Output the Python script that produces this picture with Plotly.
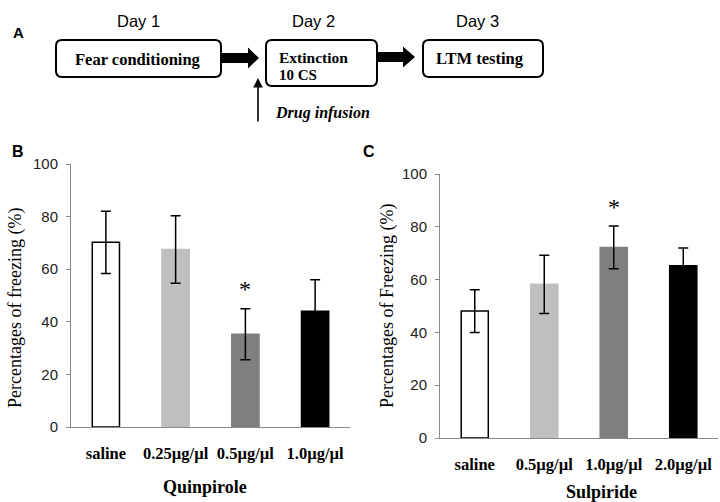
import plotly.graph_objects as go

# ---------------- data ----------------
categories_b = ["saline", "0.25µg/µl", "0.5µg/µl", "1.0µg/µl"]
values_b = [70.2, 67.5, 35.3, 44.0]
errors_b = [11.8, 12.8, 9.7, 12.0]

categories_c = ["saline", "0.5µg/µl", "1.0µg/µl", "2.0µg/µl"]
values_c = [48.1, 58.2, 72.2, 65.2]
errors_c = [8.1, 11.0, 8.1, 6.8]

y_ticks = [0, 20, 40, 60, 80, 100]
star_b = ("0.5µg/µl", 52.5)
star_c = ("1.0µg/µl", 87.5)

W, H = 720, 502
SERIF = "Liberation Serif, Times New Roman, serif"
SANS = "Liberation Sans, Arial, sans-serif"
fills = ["#ffffff", "#bfbfbf", "#7f7f7f", "#000000"]
lines = ["#000000", "#bfbfbf", "#7f7f7f", "#000000"]


def px(x):
    return x / W


def py(y):
    return 1 - y / H


def pt(x, y):
    return f"{px(x):.5f},{py(y):.5f}"


def rrect(x0, y0, x1, y1, r):
    return (f"M{pt(x0+r,y0)} L{pt(x1-r,y0)} Q{pt(x1,y0)} {pt(x1,y0+r)} "
            f"L{pt(x1,y1-r)} Q{pt(x1,y1)} {pt(x1-r,y1)} L{pt(x0+r,y1)} "
            f"Q{pt(x0,y1)} {pt(x0,y1-r)} L{pt(x0,y0+r)} Q{pt(x0,y0)} {pt(x0+r,y0)} Z")


def fat_arrow(xs, xh, xt, yc, sh, hh):
    return (f"M{pt(xs,yc-sh)} L{pt(xh,yc-sh)} L{pt(xh,yc-hh)} L{pt(xt,yc)} "
            f"L{pt(xh,yc+hh)} L{pt(xh,yc+sh)} L{pt(xs,yc+sh)} Z")


fig = go.Figure()

fig.add_trace(go.Bar(
    x=categories_b, y=values_b, width=0.39,
    marker=dict(color=fills, line=dict(color=lines, width=1.5)),
    error_y=dict(type="data", array=errors_b, color="black", thickness=1.5, width=5),
    xaxis="x", yaxis="y", showlegend=False))

fig.add_trace(go.Bar(
    x=categories_c, y=values_c, width=0.39,
    marker=dict(color=fills, line=dict(color=lines, width=1.5)),
    error_y=dict(type="data", array=errors_c, color="black", thickness=1.5, width=5),
    xaxis="x2", yaxis="y2", showlegend=False))

axis_common = dict(showline=True, linecolor="#8a8a8a", linewidth=1, showgrid=False,
                   zeroline=False, fixedrange=True, automargin=False)

fig.update_layout(
    width=W, height=H, margin=dict(l=0, r=0, t=0, b=0, autoexpand=False),
    paper_bgcolor="white", plot_bgcolor="white",
    xaxis=dict(domain=[px(71), px(350)], anchor="y", range=[-0.5, 3.5],
               ticks="", ticklabelstandoff=11,
               tickfont=dict(family=SERIF, size=16.5, color="black", weight="bold"),
               **axis_common),
    yaxis=dict(domain=[py(427), py(164)], anchor="x", range=[0, 100],
               tickvals=y_ticks, ticks="outside", ticklen=4, tickcolor="#8a8a8a",
               ticklabelstandoff=5,
               tickfont=dict(family=SANS, size=15, color="#222222"),
               **axis_common),
    xaxis2=dict(domain=[px(440), px(718)], anchor="y2", range=[-0.5, 3.5],
                ticks="", ticklabelstandoff=11,
                tickfont=dict(family=SERIF, size=16.5, color="black", weight="bold"),
                **axis_common),
    yaxis2=dict(domain=[py(438), py(174)], anchor="x2", range=[0, 100],
                tickvals=y_ticks, ticks="outside", ticklen=4, tickcolor="#8a8a8a",
                ticklabelstandoff=5,
                tickfont=dict(family=SANS, size=15, color="#222222"),
                **axis_common),
)

shapes = [
    dict(type="path", path=rrect(56, 40, 221, 77, 6), xref="paper", yref="paper",
         line=dict(color="black", width=2), fillcolor="white"),
    dict(type="path", path=rrect(266, 40, 377, 86, 6), xref="paper", yref="paper",
         line=dict(color="black", width=2), fillcolor="white"),
    dict(type="path", path=rrect(423, 40, 543, 77, 6), xref="paper", yref="paper",
         line=dict(color="black", width=2), fillcolor="white"),
    dict(type="path", path=fat_arrow(222, 248, 259, 58, 5, 10.5), xref="paper", yref="paper",
         line=dict(width=0), fillcolor="black"),
    dict(type="path", path=fat_arrow(378, 403, 415, 57, 5, 10.5), xref="paper", yref="paper",
         line=dict(width=0), fillcolor="black"),
]
fig.update_layout(shapes=shapes)

ann = []


def text(x, y, s, family, size, bold=False, italic=False, xanchor="center", color="black",
         angle=0):
    if bold:
        s = f"<b>{s}</b>"
    if italic:
        s = f"<i>{s}</i>"
    ann.append(dict(x=px(x), y=py(y), xref="paper", yref="paper", text=s, showarrow=False,
                    xanchor=xanchor, yanchor="middle", borderpad=0, textangle=angle,
                    font=dict(family=family, size=size, color=color)))


text(18, 33, "A", SANS, 15, bold=True)
text(18, 152, "B", SANS, 16, bold=True)
text(369, 152, "C", SANS, 16, bold=True)
text(138, 21, "Day 1", SANS, 16.5)
text(313, 21, "Day 2", SANS, 16.5)
text(477, 21, "Day 3", SANS, 16.5)
text(138, 59, "Fear conditioning", SERIF, 16.5, bold=True)
text(278, 57, "Extinction", SERIF, 15.5, bold=True, xanchor="left")
text(278, 75, "10 CS", SERIF, 15, bold=True, xanchor="left")
text(480, 58, "LTM testing", SERIF, 16.5, bold=True)
text(274, 113, "Drug infusion", SERIF, 16, bold=True, italic=True, xanchor="left")
text(205, 487, "Quinpirole", SERIF, 18, bold=True)
text(601, 492, "Sulpiride", SERIF, 18, bold=True)
text(15, 308, "Percentages of freezing (%)", SERIF, 18, angle=-90)
text(387, 306, "Percentages of Freezing (%)", SERIF, 18, angle=-90)

# drug infusion arrow
ann.append(dict(x=px(258), y=py(78), xref="paper", yref="paper",
                ax=0, ay=45, axref="pixel", ayref="pixel",
                showarrow=True, arrowhead=2, arrowsize=1.2, arrowwidth=1.6,
                arrowcolor="black", text=""))

# significance stars
ann.append(dict(x=star_b[0], y=star_b[1], xref="x", yref="y", text="*", showarrow=False,
                font=dict(family=SERIF, size=24, color="black")))
ann.append(dict(x=star_c[0], y=star_c[1], xref="x2", yref="y2", text="*", showarrow=False,
                font=dict(family=SERIF, size=24, color="black")))

fig.update_layout(annotations=ann)

fig.write_html("out.html", config={"displayModeBar": False},
               post_script="document.body.style.margin='0';document.body.style.overflow='hidden';")
